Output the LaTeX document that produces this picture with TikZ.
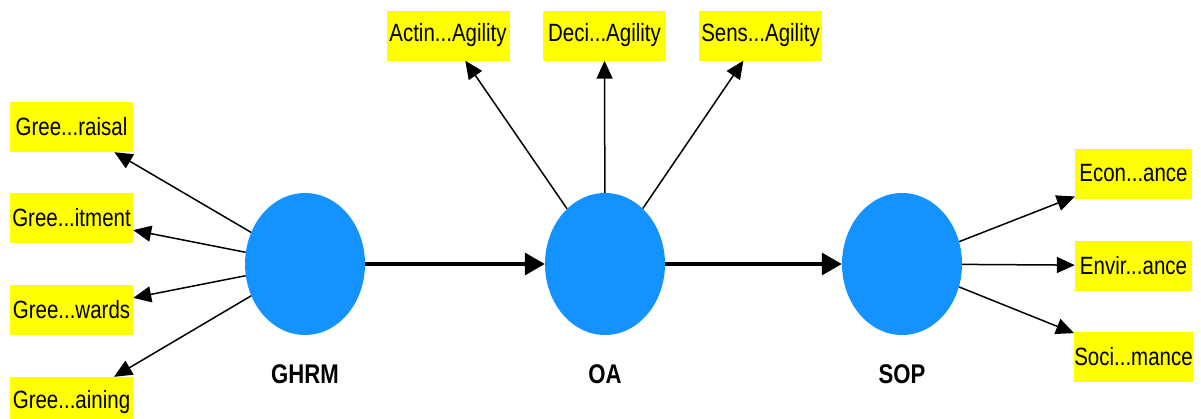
\documentclass[tikz,border=0pt]{standalone}
\usepackage{fontspec}
\setmainfont{Liberation Sans}[FakeStretch=0.82]
\usetikzlibrary{shapes.geometric,arrows.meta}
\definecolor{latentblue}{RGB}{20,146,255}
\definecolor{indicyellow}{RGB}{255,255,0}
\begin{document}
\begin{tikzpicture}[x=1pt,y=-1pt,
  latentvar/.style={ellipse, fill=latentblue, minimum width=120pt, minimum height=142pt, inner sep=0pt},
  indicator/.style={rectangle, fill=indicyellow, minimum width=123pt, minimum height=50pt, inner sep=0pt,
    font=\fontsize{25}{30}\selectfont},
  rindicator/.style={indicator, minimum width=117pt},
  lvlabel/.style={font=\bfseries\fontsize{27}{32}\selectfont},
  loading/.style={-{Triangle[length=18pt,width=16pt]}, line width=1.5pt},
  structpath/.style={-{Triangle[length=20pt,width=22pt]}, line width=3.5pt}]
\useasboundingbox (0,0) rectangle (1201,418);

% latent variables
\node[latentvar] (ghrm) at (305,264) {};
\node[latentvar] (oa)   at (605,264) {};
\node[latentvar] (sop)  at (902,264) {};
\node[lvlabel] (ghrmlab) at (305,374) {GHRM};
\node[lvlabel] (oalab)   at (605,374) {OA};
\node[lvlabel] (soplab)  at (902,374) {SOP};

% GHRM indicators
\node[indicator] (g1) at (71.5,127) {Gree...raisal};
\node[indicator] (g2) at (71.5,218) {Gree...itment};
\node[indicator] (g3) at (71.5,310) {Gree...wards};
\node[indicator] (g4) at (71.5,402) {Gree...aining};

% OA indicators
\node[indicator] (o1) at (448,35.5)   {Actin...Agility};
\node[indicator] (o2) at (604.5,35.5) {Deci...Agility};
\node[indicator] (o3) at (760.5,35.5) {Sens...Agility};

% SOP indicators
\node[rindicator] (s1) at (1133.5,173.5) {Econ...ance};
\node[rindicator] (s2) at (1133.5,265.5) {Envir...ance};
\node[rindicator] (s3) at (1133.5,357)   {Soci...mance};

% structural paths
\draw[structpath] (ghrm) -- (oa);
\draw[structpath] (oa) -- (sop);

% loadings
\foreach \t in {g1,g2,g3,g4} \draw[loading] (ghrm) -- (\t);
\foreach \t in {o1,o2,o3} \draw[loading] (oa) -- (\t);
\foreach \t in {s1,s2,s3} \draw[loading] (sop) -- (\t);
\end{tikzpicture}
\end{document}
